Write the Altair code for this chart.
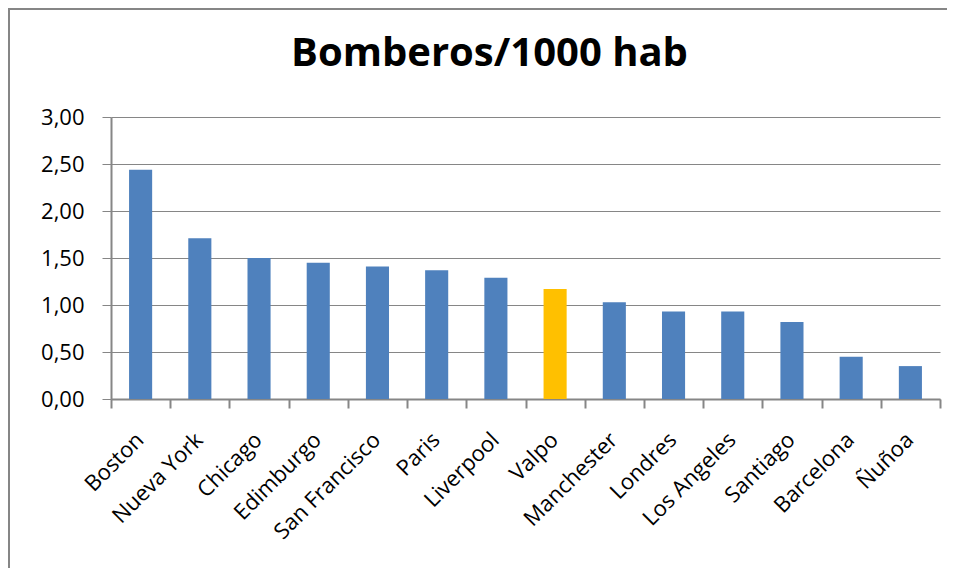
import altair as alt
import pandas as pd

cities = ["Boston", "Nueva York", "Chicago", "Edimburgo", "San Francisco", "Paris",
          "Liverpool", "Valpo", "Manchester", "Londres", "Los Angeles", "Santiago",
          "Barcelona", "Ñuñoa"]
values = [2.44, 1.71, 1.50, 1.45, 1.41, 1.37, 1.29, 1.17, 1.03, 0.93, 0.93, 0.82, 0.45, 0.35]
highlight = ["Valpo"]
y_ticks = [0, 0.5, 1.0, 1.5, 2.0, 2.5, 3.0]

BLUE = "#4F81BD"
GOLD = "#FFC000"
GRAY = "#868686"
FONT = "Open Sans"

df = pd.DataFrame({
    "ciudad": cities,
    "valor": values,
    "color": [GOLD if c in highlight else BLUE for c in cities],
})

W, H = 829, 282

bars = alt.Chart(df).mark_bar(width=alt.RelativeBandSize(0.39)).encode(
    x=alt.X("ciudad:N", sort=cities, title=None,
            scale=alt.Scale(paddingInner=0, paddingOuter=0),
            axis=alt.Axis(labelAngle=-45, labelAlign="right", labelBaseline="middle",
                          labelFont=FONT, labelFontSize=22, labelColor="black",
                          labelPadding=28, labelOffset=-1, tickBand="extent", tickSize=9,
                          tickColor=GRAY, tickWidth=2, domainColor=GRAY, domainWidth=2,
                          grid=False, labelOverlap=False)),
    y=alt.Y("valor:Q", title=None, scale=alt.Scale(domain=[0, 3], nice=False),
            axis=alt.Axis(values=y_ticks,
                          labelExpr="replace(format(datum.value, '.2f'), '.', ',')",
                          labelFont=FONT, labelFontSize=22, labelColor="black",
                          labelPadding=18, tickSize=9, tickColor=GRAY, tickWidth=1,
                          domainColor=GRAY, domainWidth=2,
                          grid=True, gridColor=GRAY, gridWidth=1)),
    color=alt.Color("color:N", scale=None, legend=None),
)

frame = pd.DataFrame({"k": [0]})
top_line = alt.Chart(frame).mark_rule(color=GRAY, strokeWidth=2).encode(
    x=alt.value(-103), x2=alt.value(W + 7), y=alt.value(-108))
left_line = alt.Chart(frame).mark_rule(color=GRAY, strokeWidth=2).encode(
    x=alt.value(-102), y=alt.value(-109), y2=alt.value(H + 169))

chart = alt.layer(top_line, left_line, bars).properties(
    width=W, height=H,
    title=alt.TitleParams("Bomberos/1000 hab", font=FONT, fontSize=40, fontWeight="bold",
                          color="black", anchor="middle", frame="group", dx=-36, dy=41,
                          baseline="alphabetic", offset=-58),
    padding={"left": 103, "top": 109, "right": 7, "bottom": 169},
    autosize=alt.AutoSizeParams(type="none"),
    background="white",
).configure_view(stroke=None)

chart.save("out.html", embed_options={"renderer": "svg", "actions": False})
